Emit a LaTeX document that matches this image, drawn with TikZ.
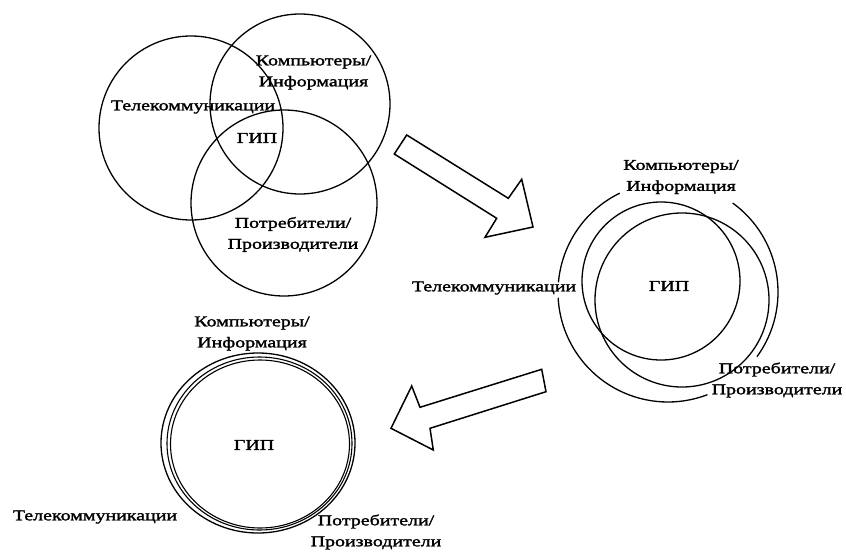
\documentclass[tikz,border=0pt]{standalone}
\usepackage{fontspec}
\newfontfamily\lbl[FakeStretch=1.33,FakeBold=1.8]{Liberation Serif}
\begin{document}
\begin{tikzpicture}[x=1pt,y=-1pt,
  lab/.style={font=\lbl\fontsize{15}{21}\selectfont, inner sep=0pt, align=center},
  ring/.style={draw, line width=1.3pt},
  bigarrow/.style={draw, line width=1.5pt, line join=miter}]
\useasboundingbox[fill=white] (0,0) rectangle (846,554);

% ---------- top Venn ----------
\coordinate (t1) at (191,128);
\coordinate (t2) at (300,104);
\coordinate (t3) at (284,203);
\draw[ring] (t1) circle[radius=92pt];
\draw[ring] (t2) circle[radius=90pt];
\draw[ring] (t3) circle[radius=93pt];
\node[lab] (tk) at (313.5,72.5) {Компьютеры/\\Информация};
\node[lab] (tt) at (193,107) {Телекоммуникации};
\node[lab] (tg) at (257,138) {ГИП};
\node[lab] (tp) at (293,234.5) {Потребители/\\Производители};

% ---------- arrow 1 ----------
\draw[bigarrow] (406.7,135) -- (508.3,198.3) -- (521.7,179.3) -- (533,227)
  -- (485,237.3) -- (496.7,218.3) -- (394.3,154) -- cycle;

% ---------- right diagram ----------
\coordinate (r0) at (668,292);
\coordinate (rp) at (661,281);
\coordinate (rq) at (682,300);
\draw[ring] (rp) circle[radius=79pt];
\draw[ring] (rq) circle[radius=87pt];
\node[lab] (rk) at (681,177) {Компьютеры/\\Информация};
\node[lab] (rt) at (494,288) {Телекоммуникации};
\node[lab] (rg) at (669,286) {ГИП};
\node[lab] (rpp) at (777,380) {Потребители/\\Производители};
\draw[ring] (r0) ++(116:110pt) arc[start angle=116, end angle=175, radius=110pt];
\draw[ring] (r0) ++(183:110pt) arc[start angle=183, end angle=291, radius=110pt];
\draw[ring] (r0) ++(54:110pt) arc[start angle=54, end angle=-36, radius=110pt];

% ---------- arrow 2 ----------
\draw[bigarrow] (541.7,369.3) -- (420,407.3) -- (411.7,386) -- (391,428.3)
  -- (433.3,450) -- (430,428.3) -- (546,391.7) -- cycle;

% ---------- bottom-left diagram ----------
\coordinate (b1) at (258,443);
\coordinate (b2) at (259.5,443.5);
\coordinate (b3) at (260,444);
\draw[ring] (b1) ellipse[x radius=97pt, y radius=90pt];
\draw[ring, line width=1.1pt] (b2) ellipse[x radius=92.5pt, y radius=86.5pt];
\draw[ring, line width=1.1pt] (b3) ellipse[x radius=89.5pt, y radius=84pt];
\node[lab] (bk) at (252,333.5) {Компьютеры/\\Информация};
\node[lab] (bg) at (254,445) {ГИП};
\node[lab] (bt) at (95,517) {Телекоммуникации};
\node[lab] (bp) at (376,532) {Потребители/\\Производители};
\end{tikzpicture}
\end{document}
